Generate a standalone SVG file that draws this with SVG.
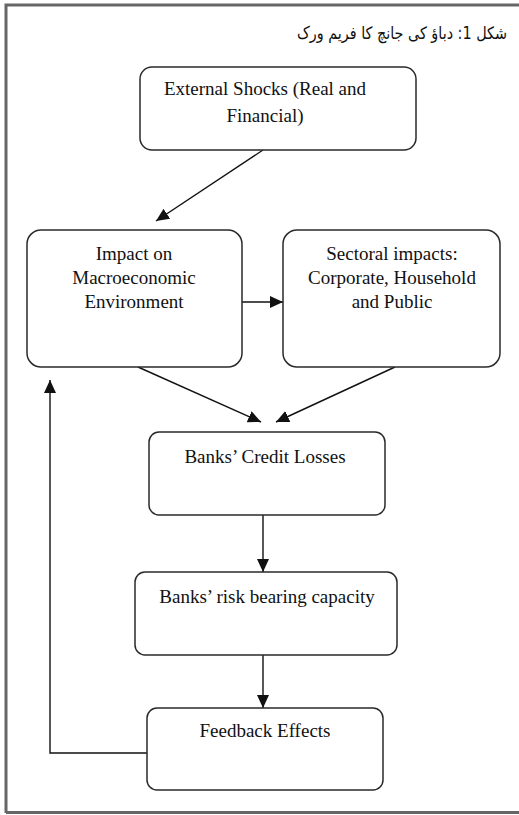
<svg xmlns="http://www.w3.org/2000/svg" width="519" height="815" viewBox="0 0 519 815">
<style>
.box{fill:#fff;stroke:#2a2a2a;stroke-width:1.5}
.t{font-family:"Liberation Serif","Times New Roman",serif;font-size:19px;fill:#111;text-anchor:middle}
.c{fill:none;stroke:#111;stroke-width:1.4}
.frame{stroke:#666;stroke-width:3;fill:none}
</style>
<defs>
<marker id="ah" markerUnits="userSpaceOnUse" markerWidth="14" markerHeight="12" refX="13" refY="6" orient="auto">
<path d="M0,0 L13,6 L0,12 Z" fill="#111"/>
</marker>
</defs>
<rect x="0" y="0" width="519" height="815" fill="#fff"/>
<g id="frame">
<path class="frame" d="M6,813 L6,5 L519,5"/>
<path class="frame" d="M6,812.5 L519,812.5"/>
</g>
<g id="title">
<text x="507" y="39" direction="rtl" text-anchor="start" font-family="'DejaVu Sans',sans-serif" font-size="17" fill="#111" textLength="210" lengthAdjust="spacingAndGlyphs">شکل 1: دباؤ کی جانچ کا فریم ورک</text>
</g>
<g id="connectors">
<line class="c" x1="263" y1="150" x2="156" y2="221" marker-end="url(#ah)"/>
<line class="c" x1="242" y1="302" x2="283" y2="302" marker-end="url(#ah)"/>
<line class="c" x1="138" y1="367" x2="261" y2="422" marker-end="url(#ah)"/>
<line class="c" x1="395" y1="367" x2="276" y2="422" marker-end="url(#ah)"/>
<line class="c" x1="263" y1="515" x2="263" y2="572" marker-end="url(#ah)"/>
<line class="c" x1="263" y1="655" x2="263" y2="708" marker-end="url(#ah)"/>
<polyline class="c" points="147,753 50,753 50,380" marker-end="url(#ah)"/>
</g>
<g id="external">
<rect class="box" x="140" y="67" width="276" height="83" rx="12"/>
<text class="t" x="265" y="95">External Shocks (Real and</text>
<text class="t" x="265" y="122">Financial)</text>
</g>
<g id="impact">
<rect class="box" x="27" y="230" width="215" height="137" rx="14"/>
<text class="t" x="134" y="260">Impact on</text>
<text class="t" x="134" y="284">Macroeconomic</text>
<text class="t" x="134" y="308">Environment</text>
</g>
<g id="sectoral">
<rect class="box" x="283" y="230" width="217" height="137" rx="14"/>
<text class="t" x="392" y="260">Sectoral impacts:</text>
<text class="t" x="392" y="284">Corporate, Household</text>
<text class="t" x="392" y="308">and Public</text>
</g>
<g id="credit">
<rect class="box" x="149" y="432" width="236" height="83" rx="10"/>
<text class="t" x="265" y="463">Banks’ Credit Losses</text>
</g>
<g id="risk">
<rect class="box" x="135" y="572" width="262" height="83" rx="10"/>
<text class="t" x="267" y="603">Banks’ risk bearing capacity</text>
</g>
<g id="feedback">
<rect class="box" x="147" y="708" width="236" height="82" rx="10"/>
<text class="t" x="265" y="737">Feedback Effects</text>
</g>
</svg>
